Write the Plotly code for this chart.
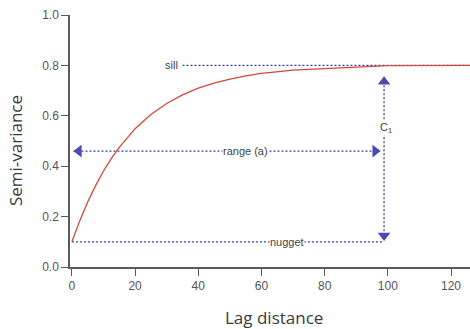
import plotly.graph_objects as go

# Fitted semivariogram (exponential model), lag vs semi-variance
lag = [0, 2.5, 5, 7.5, 10, 12.5, 15, 20, 25, 30, 35, 40, 45, 50, 55, 60,
       70, 80, 90, 95, 100, 110, 127]
semivar = [0.10, 0.184, 0.258, 0.323, 0.381, 0.431, 0.475, 0.549, 0.605, 0.649,
           0.683, 0.710, 0.730, 0.746, 0.758, 0.768, 0.781, 0.788, 0.793, 0.796,
           0.799, 0.80, 0.80]

# Model parameters shown as guides
nugget = 0.10
sill = 0.80
range_y = 0.46
range_end = 97.5
c_x = 98.8
c_top = 0.755
sill_start = 35

x_ticks = [0, 20, 40, 60, 80, 100, 120]
y_ticks = [0.0, 0.2, 0.4, 0.6, 0.8, 1.0]
y_tick_text = ["0.0", "0.2", "0.4", "0.6", "0.8", "1.0"]

guide = dict(color="#3b3ba6", width=1.3, dash="2px,2px")
arrow_col = "#4a4ab0"
label_font = dict(family="Liberation Sans Narrow, Arial Narrow, Liberation Sans, sans-serif",
                  size=11, color="#444444")

fig = go.Figure()

# guide lines
fig.add_trace(go.Scatter(x=[sill_start, 127], y=[sill, sill], mode="lines", line=guide,
                         hoverinfo="skip"))
fig.add_trace(go.Scatter(x=[0.5, range_end], y=[range_y, range_y], mode="lines", line=guide,
                         hoverinfo="skip"))
fig.add_trace(go.Scatter(x=[0, c_x], y=[nugget, nugget], mode="lines", line=guide,
                         hoverinfo="skip"))
fig.add_trace(go.Scatter(x=[c_x, c_x], y=[nugget + 0.01, c_top], mode="lines", line=guide,
                         hoverinfo="skip"))

# model curve
fig.add_trace(go.Scatter(x=lag, y=semivar, mode="lines",
                         line=dict(color="#d2483a", width=1.3), hoverinfo="skip"))

# arrow heads
fig.add_trace(go.Scatter(x=[2.2], y=[range_y], mode="markers",
                         marker=dict(symbol="triangle-left", size=11, color=arrow_col)))
fig.add_trace(go.Scatter(x=[range_end - 1.5], y=[range_y], mode="markers",
                         marker=dict(symbol="triangle-right", size=11, color=arrow_col)))
fig.add_trace(go.Scatter(x=[c_x], y=[c_top - 0.02], mode="markers",
                         marker=dict(symbol="triangle-up", size=11, color=arrow_col)))
fig.add_trace(go.Scatter(x=[c_x], y=[nugget + 0.025], mode="markers",
                         marker=dict(symbol="triangle-down", size=11, color=arrow_col)))

annotations = [
    dict(x=sill_start - 1, y=sill, text="sill", xanchor="right"),
    dict(x=55, y=range_y, text="range (a)", bgcolor="white"),
    dict(x=68, y=nugget, text="nugget", bgcolor="white"),
    dict(x=c_x + 0.5, y=0.55, text="C<sub>1</sub>", bgcolor="white"),
]
for a in annotations:
    a.update(xref="x", yref="y", showarrow=False, font=label_font, borderpad=0)
    fig.add_annotation(**a)

title_font = dict(family="Open Sans, Lato, sans-serif", size=17, color="#3a3a3a")
fig.add_annotation(x=-0.1375, y=0.464, xref="paper", yref="paper", text="Semi-variance",
                   textangle=-90, showarrow=False, font=title_font,
                   xanchor="center", yanchor="middle")
fig.add_annotation(x=0.51, y=-0.202, xref="paper", yref="paper", text="Lag distance",
                   showarrow=False, font=title_font, xanchor="center", yanchor="middle")

axis_common = dict(showgrid=False, zeroline=False, showline=True, linecolor="#5a5a5a",
                   linewidth=1.5, ticks="outside", ticklen=7, tickwidth=1.3,
                   tickcolor="#5a5a5a", tickfont=dict(family=label_font["family"], size=12,
                                                      color="#555555"))
fig.update_xaxes(range=[-0.6, 126], tickvals=x_ticks, **axis_common)
fig.update_yaxes(range=[0, 1.0], tickvals=y_ticks, ticktext=y_tick_text, **axis_common)

fig.update_layout(width=470, height=329, margin=dict(l=70, r=0, t=15, b=62),
                  plot_bgcolor="white", paper_bgcolor="white", showlegend=False)

fig.write_html("out.html")
